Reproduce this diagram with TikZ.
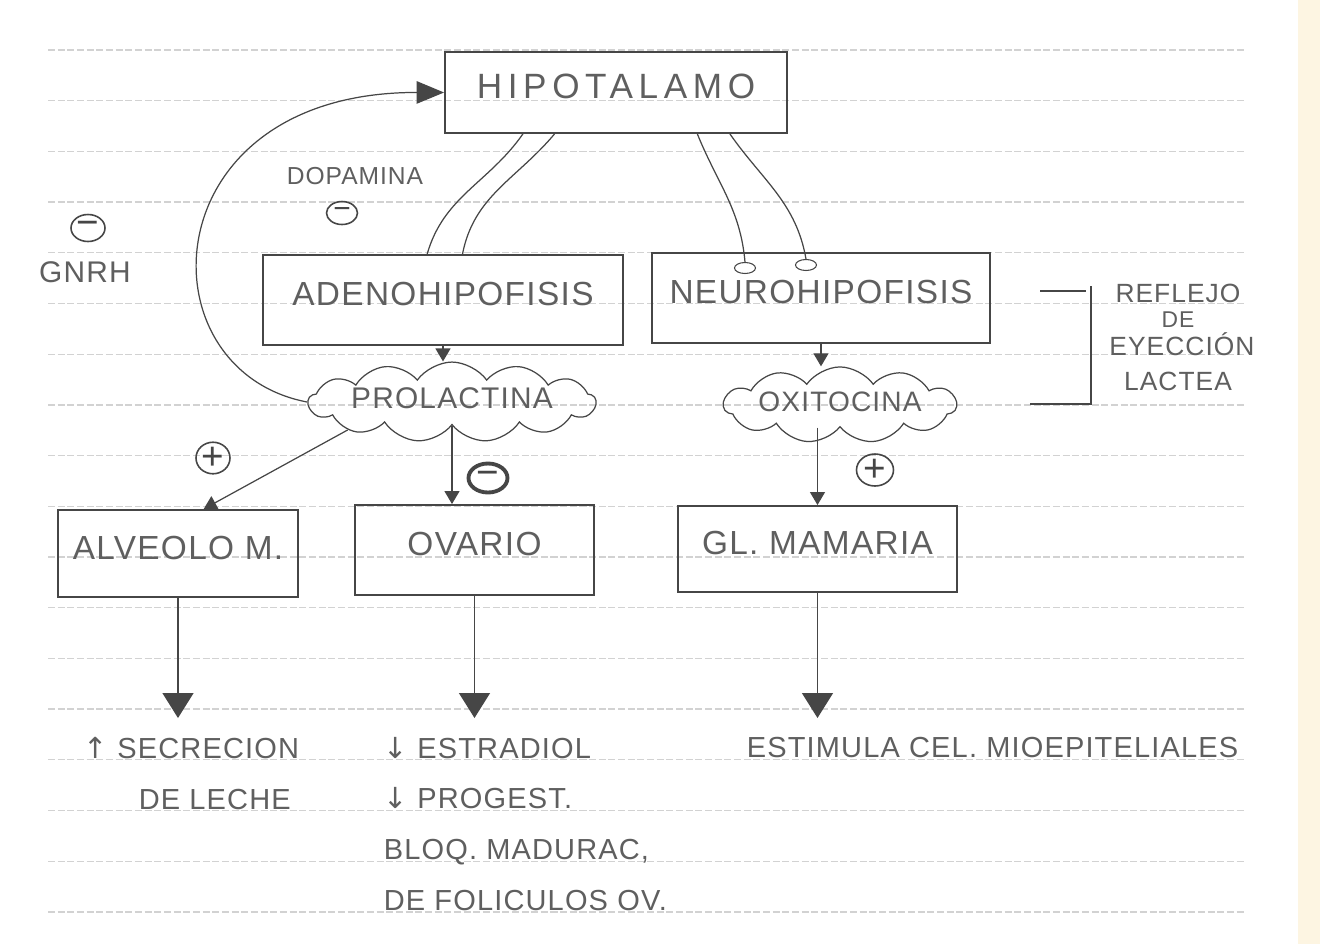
\documentclass[tikz,border=0pt]{standalone}
\usepackage{fontspec}
\setmainfont{Liberation Sans}[LetterSpace=4]
\newfontfamily\arrowfont{DejaVu Sans}
\usetikzlibrary{shapes.geometric, shapes.symbols, arrows.meta, positioning}
\definecolor{ink}{RGB}{70,70,70}
\definecolor{pencil}{RGB}{95,95,95}
\definecolor{ruling}{RGB}{210,210,210}
\definecolor{cream}{RGB}{253,245,226}

\begin{document}
\begin{tikzpicture}[
    x=0.02cm, y=-0.02cm,
    box/.style={rectangle, draw=ink, line width=1.1pt, text=pencil, font=\fontsize{19}{23}\selectfont, text depth=0.24cm},
    puff/.style={cloud, cloud puffs=13, cloud puff arc=110, cloud ignores aspect, draw=ink, line width=0.7pt, text=pencil, inner sep=1pt, text depth=0.15cm},
    sign/.style={ellipse, draw=ink, line width=0.9pt, inner sep=0pt, minimum width=0.68cm, minimum height=0.54cm, text=ink, font=\fontsize{22}{22}\selectfont},
    term/.style={ellipse, draw=ink, line width=0.6pt, inner sep=0pt, minimum width=0.42cm, minimum height=0.22cm},
    note/.style={text=pencil, inner sep=0pt},
    result/.style={text=pencil, anchor=north west, align=left, inner sep=2pt, font=\fontsize{16.5}{29}\selectfont},
    nerve/.style={draw=ink, line width=0.7pt},
    arrow/.style={draw=ink, line width=0.7pt, -{Triangle[length=0.26cm, width=0.3cm]}},
    bigarrow/.style={draw=ink, line width=0.8pt, -{Triangle[length=0.5cm, width=0.62cm]}, shorten >=0.3cm},
    feedback/.style={draw=ink, line width=0.7pt, -{Triangle[length=0.55cm, width=0.45cm]}}
]

% Paper
\fill[white] (0,0) rectangle (1320,944);
\fill[cream] (1298,0) rectangle (1320,944);
\useasboundingbox (0,0) rectangle (1320,944);
\foreach \k in {0,...,17}
  \draw[ruling, line width=0.7pt, dash pattern=on 4pt off 1.5pt] (48,{50+50.7*\k}) -- (1245,{50+50.7*\k});

% Nodes
\node (hipo) [box, minimum width=6.84cm, minimum height=1.62cm, font=\fontsize{20}{24}\selectfont\addfontfeatures{LetterSpace=16}] at (616,92.5) {HIPOTALAMO};
\node (adeno) [box, minimum width=7.2cm, minimum height=1.8cm] at (443,300) {ADENOHIPOFISIS};
\node (neuro) [box, minimum width=6.76cm, minimum height=1.8cm] at (821,298) {NEUROHIPOFISIS};
\node (prolac) [puff, minimum width=4.7cm, minimum height=1.25cm, font=\fontsize{17}{20}\selectfont] at (452,402) {PROLACTINA};
\node (oxi) [puff, cloud puffs=11, minimum width=4.3cm, minimum height=1.0cm, font=\fontsize{16}{19}\selectfont] at (840,405) {OXITOCINA};
\node (alveolo) [box, minimum width=4.8cm, minimum height=1.74cm] at (178,553.5) {ALVEOLO M.};
\node (ovario) [box, minimum width=4.78cm, minimum height=1.8cm] at (474.5,550) {OVARIO};
\node (mamaria) [box, minimum width=5.58cm, minimum height=1.72cm] at (817.5,549) {GL. MAMARIA};
\node (t1) [term] at (745,268) {};
\node (t2) [term] at (806,265) {};

% Signs and labels
\node (dopa) [note, font=\fontsize{14}{16}\selectfont] at (355,176) {DOPAMINA};
\node (dopaminus) [sign, minimum width=0.62cm, minimum height=0.46cm, font=\fontsize{17}{17}\selectfont] at (342,213) {−};
\node (gnrhminus) [sign] at (88,228) {−};
\node (gnrh) [note, font=\fontsize{17}{20}\selectfont] at (85,272) {GNRH};
\node (alvplus) [sign] at (213,458) {+};
\node (ovminus) [sign, line width=2.2pt, minimum width=0.78cm, minimum height=0.58cm] at (488,478) {−};
\node (mamplus) [sign, minimum width=0.74cm, minimum height=0.64cm] at (875,470) {+};
\node (refl) [note, font=\fontsize{15}{18}\selectfont] at (1178,293) {REFLEJO};
\node (reflde) [note, font=\fontsize{13}{15}\selectfont] at (1178,320) {DE};
\node (reflyec) [note, font=\fontsize{15}{18}\selectfont] at (1182,344) {EYECCIÓN};
\node (refllac) [note, font=\fontsize{15}{18}\selectfont] at (1178,381) {LACTEA};

% Results
\node (secrec) [result] at (80,733) {{\arrowfont ↑} SECRECION\\\hspace*{1.1cm}DE LECHE};
\node (ovres) [result] at (380,733) {{\arrowfont ↓} ESTRADIOL\\{\arrowfont ↓} PROGEST.\\BLOQ. MADURAC,\\DE FOLICULOS OV.};
\node (estim) [result] at (743,733) {ESTIMULA CEL. MIOEPITELIALES};

% Bracket
\draw[nerve] (1040,291) -- (1086,291);
\draw[nerve] (1091,286) |- (1030,404);

% Arrows
\draw[nerve] (hipo.204) to[out=-125, in=74] (adeno.109);
\draw[nerve] (hipo.214) to[out=-130, in=79] (adeno.67);
\draw[nerve] (hipo.-27) to[out=-68, in=95] (t1.north);
\draw[nerve] (hipo.-20) to[out=-55, in=100] (t2.north);
\draw[feedback] (prolac.west) .. controls (140,370) and (150,92) .. (hipo.west);
\draw[arrow] (adeno.south) -- (adeno.south |- prolac.north);
\draw[arrow] (neuro.south) -- (neuro.south |- oxi.north);
\draw[arrow] (prolac.195) -- (alveolo.60);
\draw[arrow] (prolac.south) -- (prolac.south |- ovario.north);
\draw[arrow] (mamaria.north |- oxi.south) -- (mamaria.north);
\draw[bigarrow] (alveolo.south) -- (alveolo.south |- secrec.north);
\draw[bigarrow] (ovario.south) -- (ovario.south |- ovres.north);
\draw[bigarrow] (mamaria.south) -- (mamaria.south |- estim.north);

\end{tikzpicture}
\end{document}
